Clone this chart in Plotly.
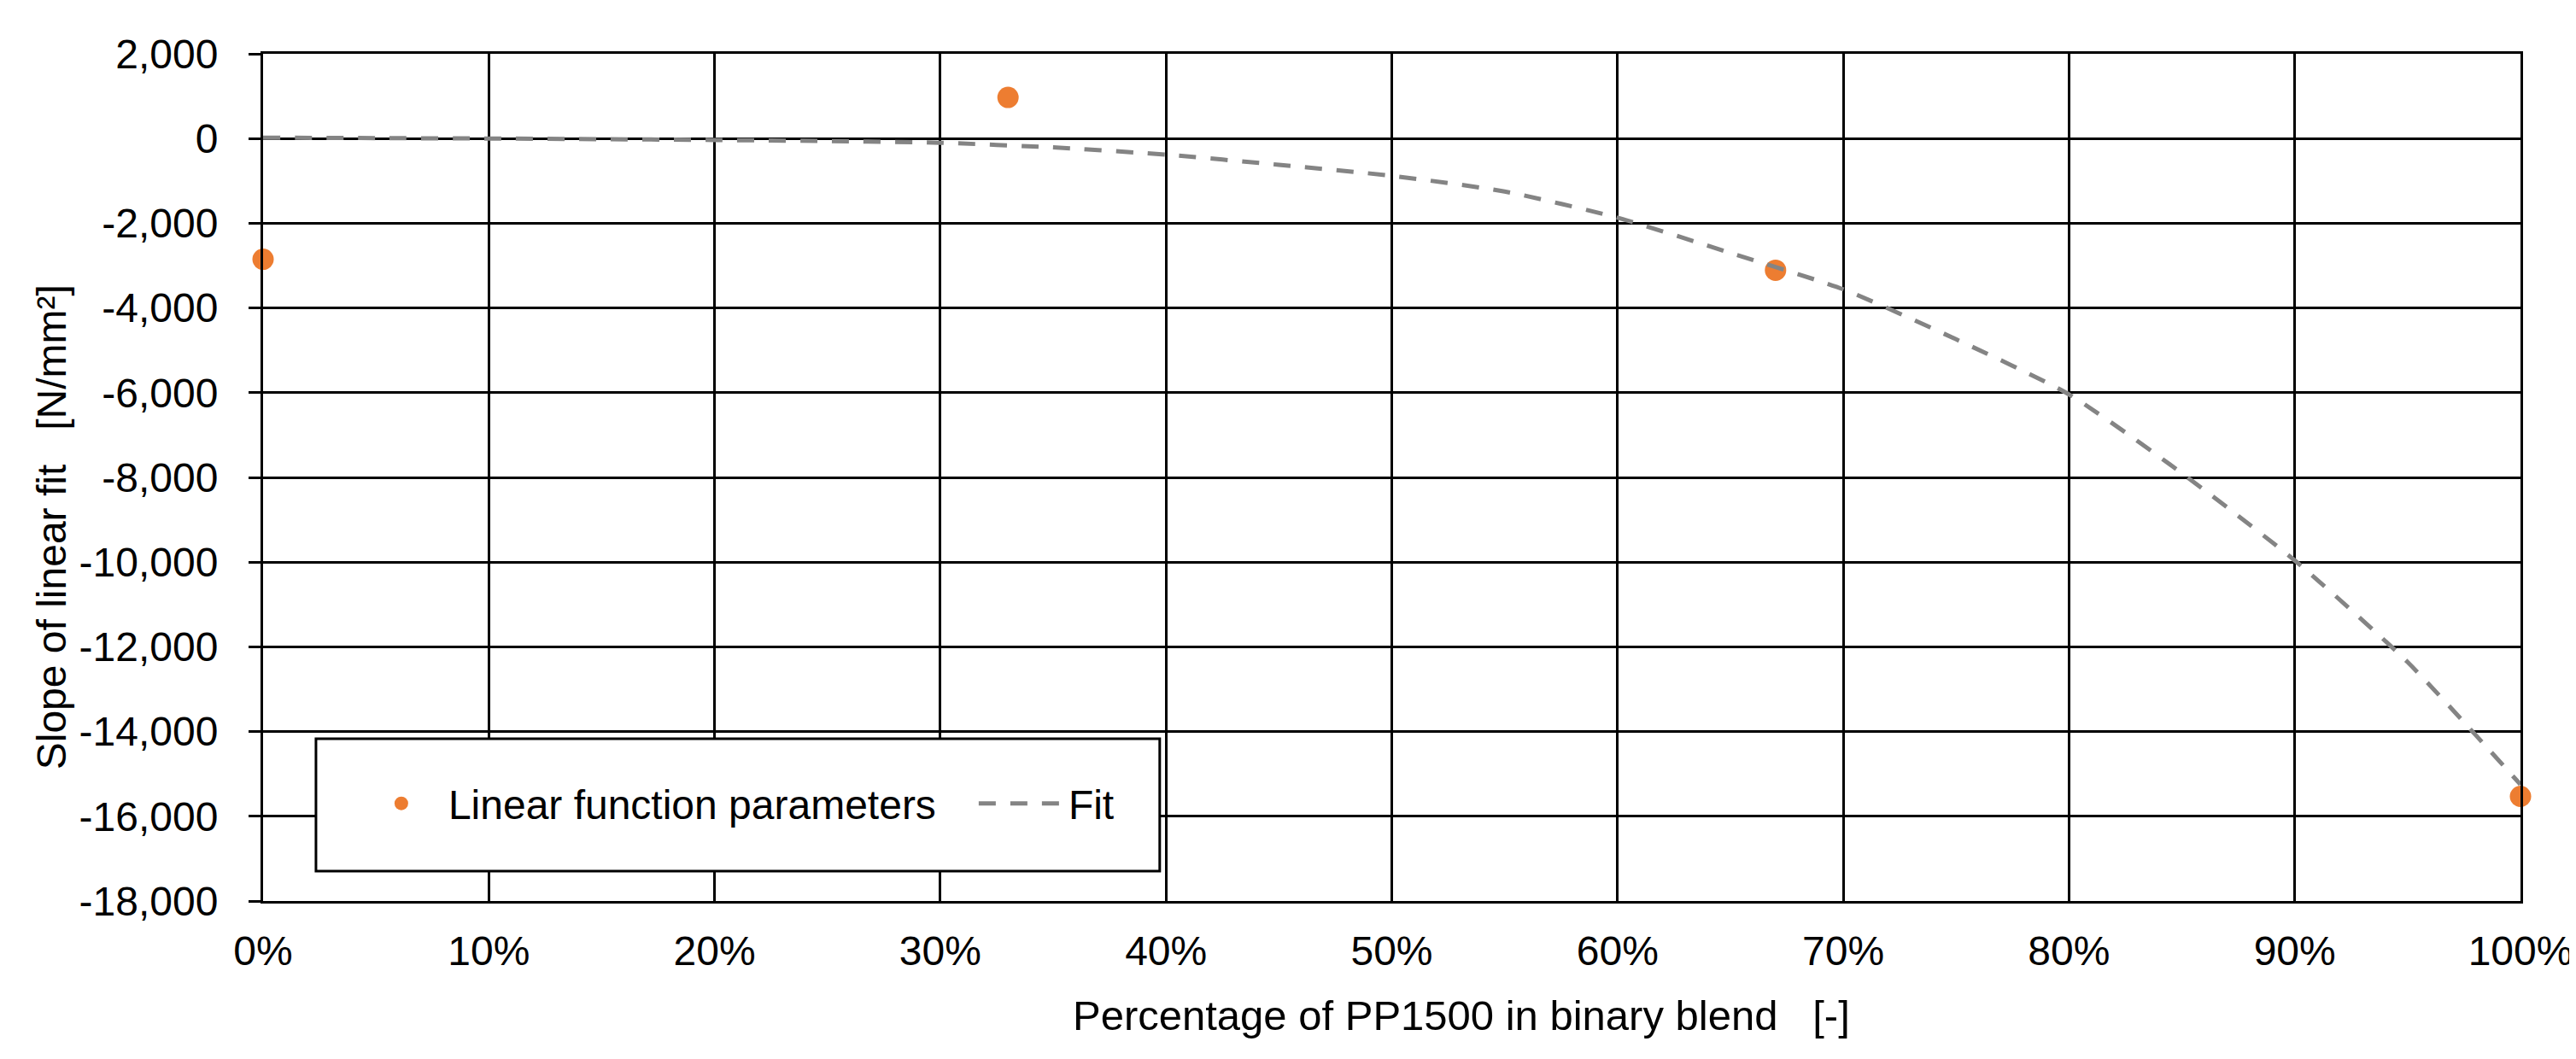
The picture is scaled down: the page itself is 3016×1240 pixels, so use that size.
import plotly.graph_objects as go

# Data
pp_share = [0.0, 0.33, 0.67, 1.0]
slope_values = [-2850, 970, -3110, -15530]

fit_x = [0.0, 0.05, 0.10, 0.15, 0.20, 0.25, 0.30, 0.35, 0.40, 0.45, 0.50,
         0.55, 0.60, 0.65, 0.70, 0.75, 0.80, 0.85, 0.90, 0.95, 1.0]
fit_y = [20, 10, 0, -15, -35, -60, -100, -210, -380, -620, -880,
         -1250, -1870, -2700, -3560, -4740, -6040, -7900, -9960, -12360, -15250]

y_tickvals = [2000, 0, -2000, -4000, -6000, -8000, -10000, -12000, -14000, -16000, -18000]
y_ticktext = ["2,000", "0", "-2,000", "-4,000", "-6,000", "-8,000", "-10,000",
              "-12,000", "-14,000", "-16,000", "-18,000"]
x_tickvals = [0.0, 0.1, 0.2, 0.3, 0.4, 0.5, 0.6, 0.7, 0.8, 0.9, 1.0]
x_ticktext = ["0%", "10%", "20%", "30%", "40%", "50%", "60%", "70%", "80%", "90%", "100%"]

FONT = "Liberation Sans, Arial, sans-serif"
W, H = 3016, 1240
L, R, T, B = 300, 70, 55, 193
PW, PH = W - L - R, H - T - B

def px(xpix):
    return (xpix - L) / PW

def py(ypix):
    return (H - B - ypix) / PH

fig = go.Figure()
fig.add_trace(go.Scatter(
    x=pp_share, y=slope_values, mode="markers",
    name="Linear function parameters\u00a0\u00a0\u00a0",
    marker=dict(color="#ED7D31", size=25),
    cliponaxis=False,
))
fig.add_trace(go.Scatter(
    x=fit_x, y=fit_y, mode="lines", name="Fit",
    line=dict(color="#848484", width=5, dash="20px,17px", shape="spline", smoothing=0.6),
    cliponaxis=False,
))

fig.update_layout(
    width=W, height=H,
    margin=dict(l=L, r=R, t=T, b=B),
    paper_bgcolor="white", plot_bgcolor="white",
    font=dict(family=FONT, size=48, color="#000000"),
    showlegend=True,
    legend=dict(
        orientation="h", x=px(407), y=py(933), xanchor="left", yanchor="middle",
        bgcolor="rgba(0,0,0,0)", borderwidth=0,
        font=dict(family=FONT, size=48, color="#000000"),
        itemwidth=100,
    ),
    xaxis=dict(
        range=[0, 1], tickvals=x_tickvals, ticktext=x_ticktext,
        showgrid=True, gridcolor="black", gridwidth=3,
        showline=True, linecolor="black", linewidth=3, mirror=True,
        ticks="", zeroline=False, ticklabelstandoff=14,
        tickfont=dict(family=FONT, size=48, color="#000000"),
    ),
    yaxis=dict(
        range=[-18000, 2000], tickvals=y_tickvals, ticktext=y_ticktext,
        showgrid=True, gridcolor="black", gridwidth=3,
        showline=True, linecolor="black", linewidth=3, mirror=True,
        ticks="outside", ticklen=14, tickwidth=3, tickcolor="black",
        zeroline=False, ticklabelstandoff=26,
        tickfont=dict(family=FONT, size=48, color="#000000"),
    ),
    shapes=[dict(
        type="rect", xref="paper", yref="paper",
        x0=px(362), x1=px(1351), y0=py(1012), y1=py(857),
        fillcolor="white", line=dict(color="black", width=3), layer="above",
    )],
    annotations=[
        dict(text="Percentage of PP1500 in binary blend   [-]", xref="paper", yref="paper",
             x=px(1705), y=py(1181), xanchor="center", yanchor="middle", showarrow=False,
             font=dict(family=FONT, size=49, color="#000000")),
        dict(text="Slope of linear fit   [N/mm²]", xref="paper", yref="paper",
             x=px(52), y=py(609), xanchor="center", yanchor="middle", showarrow=False,
             textangle=-90, font=dict(family=FONT, size=48, color="#000000")),
    ],
)

fig.write_html("out.html")
